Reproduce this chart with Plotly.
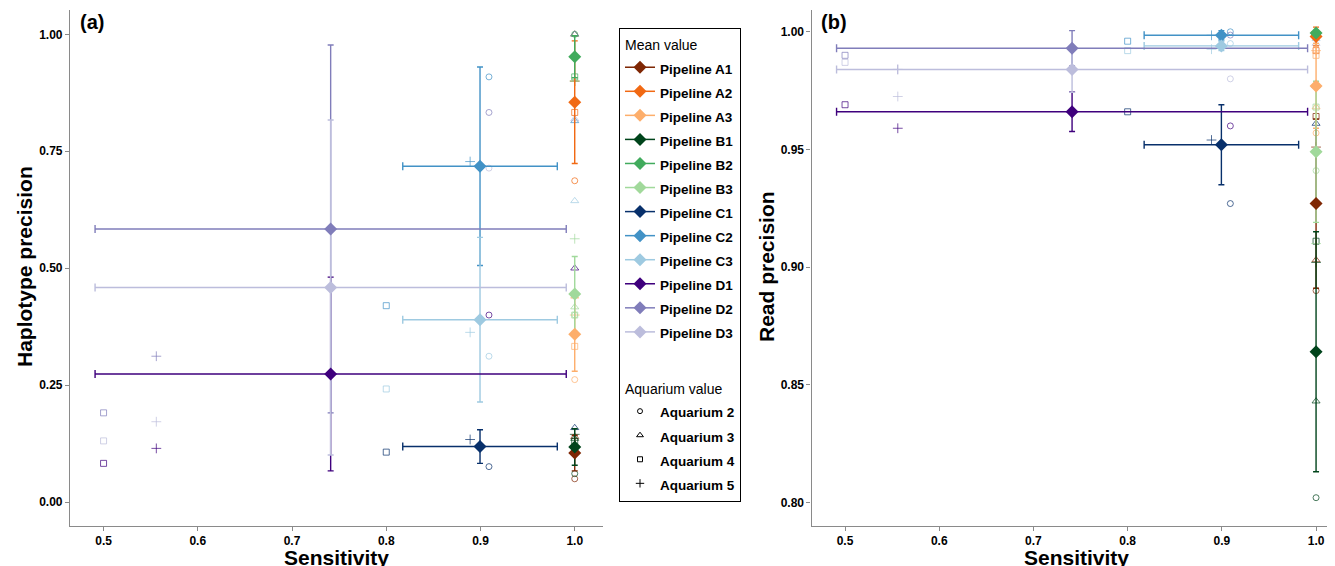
import plotly.graph_objects as go

# ---------------- data ----------------
pipelines = ["A1", "A2", "A3", "B1", "B2", "B3", "C1", "C2", "C3", "D1", "D2", "D3"]
colors = ["#7f2704", "#f16913", "#fdae6b",
          "#00441b", "#41ab5d", "#a1d99b",
          "#08306b", "#4292c6", "#9ecae1",
          "#3f007d", "#807dba", "#bcbddc"]
aquaria = ["Aquarium 2", "Aquarium 3", "Aquarium 4", "Aquarium 5"]
aq_symbols = ["circle-open", "triangle-up-open", "square-open", "cross-thin-open"]
aq_sizes = [6, 7, 6, 7]

# sensitivity of each aquarium (Aq2, Aq3, Aq4, Aq5) per pipeline family
sens_AB = [1.0, 1.0, 1.0, 1.0]
sens_C = [0.909, 1.0, 0.8, 0.889]
sens_D = [0.909, 1.0, 0.5, 0.556]
aq_sens = {"A1": sens_AB, "A2": sens_AB, "A3": sens_AB,
           "B1": sens_AB, "B2": sens_AB, "B3": sens_AB,
           "C1": sens_C, "C2": sens_C, "C3": sens_C,
           "D1": sens_D, "D2": sens_D, "D3": sens_D}

# haplotype precision per aquarium (Aq2, Aq3, Aq4, Aq5)
aq_hap = {
    "A1": [0.050, 0.140, 0.110, 0.120],
    "A2": [0.687, 1.000, 0.833, 0.900],
    "A3": [0.262, 0.440, 0.333, 0.400],
    "B1": [0.061, 0.136, 0.130, 0.145],
    "B2": [1.000, 1.000, 0.909, 0.900],
    "B3": [0.400, 0.417, 0.400, 0.563],
    "C1": [0.076, 0.159, 0.107, 0.134],
    "C2": [0.909, 0.815, 0.420, 0.728],
    "C3": [0.312, 0.644, 0.242, 0.363],
    "D1": [0.400, 0.500, 0.083, 0.115],
    "D2": [0.833, 1.000, 0.191, 0.312],
    "D3": [0.714, 0.819, 0.131, 0.172],
}

# read precision per aquarium (Aq2, Aq3, Aq4, Aq5)
aq_read = {
    "A1": [0.890, 0.903, 0.964, 0.951],
    "A2": [0.998, 1.000, 0.992, 1.000],
    "A3": [0.957, 0.968, 0.990, 0.992],
    "B1": [0.802, 0.843, 0.911, 0.902],
    "B2": [1.000, 1.000, 0.999, 0.999],
    "B3": [0.941, 0.977, 0.968, 0.910],
    "C1": [0.927, 0.961, 0.966, 0.954],
    "C2": [1.000, 1.000, 0.996, 0.9985],
    "C3": [0.995, 0.997, 0.992, 0.9926],
    "D1": [0.960, 0.977, 0.969, 0.959],
    "D2": [0.9986, 1.000, 0.990, 0.984],
    "D3": [0.980, 0.995, 0.987, 0.9725],
}

# mean values and standard deviations (error bars)
sens_mean = [1.0, 1.0, 1.0, 1.0, 1.0, 1.0, 0.8995, 0.8995, 0.8995, 0.741, 0.741, 0.741]
sens_sd = [0, 0, 0, 0, 0, 0, 0.082, 0.082, 0.082, 0.250, 0.250, 0.250]
hap_mean = [0.105, 0.855, 0.359, 0.118, 0.952, 0.445, 0.119, 0.718, 0.390, 0.274, 0.584, 0.459]
hap_sd = [0.038, 0.131, 0.079, 0.039, 0.045, 0.080, 0.036, 0.212, 0.176, 0.207, 0.393, 0.358]
read_mean = [0.927, 0.998, 0.977, 0.864, 0.9995, 0.949, 0.952, 0.9985, 0.994, 0.966, 0.993, 0.984]
read_sd = [0.036, 0.004, 0.018, 0.051, 0.001, 0.030, 0.017, 0.002, 0.002, 0.0084, 0.0075, 0.0097]

x_ticks = [0.5, 0.6, 0.7, 0.8, 0.9, 1.0]
x_ticktext = ["0.5", "0.6", "0.7", "0.8", "0.9", "1.0"]
hap_ticks = [0.0, 0.25, 0.5, 0.75, 1.0]
hap_ticktext = ["0.00", "0.25", "0.50", "0.75", "1.00"]
read_ticks = [0.80, 0.85, 0.90, 0.95, 1.00]
read_ticktext = ["0.80", "0.85", "0.90", "0.95", "1.00"]

# ---------------- figure ----------------
# the page body has an 8px margin, so the figure is drawn 8px right/down
OFF = 8
W, H = 1335 - OFF, 566 - OFF
FONT = "Liberation Sans, Arial, Helvetica, sans-serif"


def px(xp):  # page x pixel -> paper x
    return (xp - OFF) / W


def py(yp):  # page y pixel -> paper y
    return 1 - (yp - OFF) / H


fig = go.Figure()

panels = [("x", "y", aq_hap, hap_mean, hap_sd), ("x2", "y2", aq_read, read_mean, read_sd)]

# aquarium points (bottom layer)
for xa, ya, aqvals, _, _ in panels:
    for p, c in zip(pipelines, colors):
        fig.add_trace(go.Scatter(
            x=aq_sens[p], y=aqvals[p], mode="markers", xaxis=xa, yaxis=ya,
            marker=dict(symbol=aq_symbols, size=aq_sizes, color=c,
                        line=dict(color=c, width=1)),
            showlegend=False, hoverinfo="skip"))

# error bars
for xa, ya, _, mvals, sdvals in panels:
    for i, (p, c) in enumerate(zip(pipelines, colors)):
        ex = dict(type="data", array=[sens_sd[i]], symmetric=True, color=c,
                  thickness=1.4, width=4, visible=sens_sd[i] > 0)
        ey = dict(type="data", array=[sdvals[i]], symmetric=True, color=c,
                  thickness=1.4, width=3)
        fig.add_trace(go.Scatter(
            x=[sens_mean[i]], y=[mvals[i]], mode="markers", xaxis=xa, yaxis=ya,
            marker=dict(size=2, color=c, opacity=0),
            error_x=ex, error_y=ey, showlegend=False, hoverinfo="skip"))

# mean diamonds
for xa, ya, _, mvals, _ in panels:
    for i, (p, c) in enumerate(zip(pipelines, colors)):
        fig.add_trace(go.Scatter(
            x=[sens_mean[i]], y=[mvals[i]], mode="markers", xaxis=xa, yaxis=ya,
            marker=dict(symbol="diamond", size=10, color=c),
            showlegend=False, name="Pipeline " + p))

# legend entries
LBL = '<span style="font-size:13.5px"><b>%s</b></span>'
for i, (p, c) in enumerate(zip(pipelines, colors)):
    fig.add_trace(go.Scatter(
        x=[None], y=[None], mode="lines+markers",
        marker=dict(symbol="diamond", size=10, color=c),
        line=dict(color=c, width=1.5),
        name=LBL % ("Pipeline " + p), legendgroup="mean",
        legendgrouptitle=dict(text="Mean value", font=dict(size=14, color="black", family=FONT)),
        showlegend=True))
for a, s, sz in zip(aquaria, aq_symbols, aq_sizes):
    fig.add_trace(go.Scatter(
        x=[None], y=[None], mode="markers",
        marker=dict(symbol=s, size=sz - 1, color="black", line=dict(color="black", width=1)),
        name=LBL % a, legendgroup="aq",
        legendgrouptitle=dict(text="Aquarium value", font=dict(size=14, color="black", family=FONT)),
        showlegend=True))

ybot = py(525.5)
ytop = py(9.6)
axis_common = dict(showline=True, linecolor="#8a8a8a", linewidth=1.2, ticks="outside",
                   ticklen=4, tickcolor="#8a8a8a", tickwidth=1, showgrid=False,
                   zeroline=False, mirror=False,
                   tickfont=dict(family=FONT, size=12, color="black", weight="bold"))

fig.update_layout(
    width=W, height=H, margin=dict(l=0, r=0, t=0, b=0),
    paper_bgcolor="white", plot_bgcolor="white",
    font=dict(family=FONT, color="black"),
    xaxis=dict(domain=[px(70), px(603)], range=[0.4644, 1.03], tickvals=x_ticks,
               ticktext=x_ticktext, anchor="y", **axis_common),
    yaxis=dict(domain=[ybot, ytop], range=[-0.0498, 1.0528], tickvals=hap_ticks,
               ticktext=hap_ticktext, anchor="x", **axis_common),
    xaxis2=dict(domain=[px(811.5), 1.0], range=[0.4644, 1.0201], tickvals=x_ticks,
                ticktext=x_ticktext, anchor="y2", **axis_common),
    yaxis2=dict(domain=[ybot, ytop], range=[0.79018, 1.00943], tickvals=read_ticks,
                ticktext=read_ticktext, anchor="x2", **axis_common),
    legend=dict(x=px(619), y=py(28), xanchor="left", yanchor="top",
                bordercolor="black", borderwidth=1, bgcolor="white",
                font=dict(family=FONT, size=16.2, color="black"),
                tracegroupgap=34, itemwidth=30, traceorder="grouped"),
    showlegend=True,
)

title_font = dict(family=FONT, size=21, color="black", weight="bold")
ann = [
    dict(text="<b>(a)</b>", x=px(78), y=py(22), xanchor="left", yanchor="middle",
         font=dict(family=FONT, size=20, color="black")),
    dict(text="<b>(b)</b>", x=px(819), y=py(22), xanchor="left", yanchor="middle",
         font=dict(family=FONT, size=20, color="black")),
    dict(text="Sensitivity", x=px(336.5), y=py(557), xanchor="center", yanchor="middle",
         font=title_font),
    dict(text="Sensitivity", x=px(1076), y=py(557), xanchor="center", yanchor="middle",
         font=title_font),
    dict(text="Haplotype precision", x=px(24), y=py(267), xanchor="center",
         yanchor="middle", textangle=-90, font=title_font),
    dict(text="Read precision", x=px(766), y=py(267), xanchor="center",
         yanchor="middle", textangle=-90, font=title_font),
]
for a in ann:
    a.update(xref="paper", yref="paper", showarrow=False)
fig.update_layout(annotations=ann)

fig.write_html("out.html")
